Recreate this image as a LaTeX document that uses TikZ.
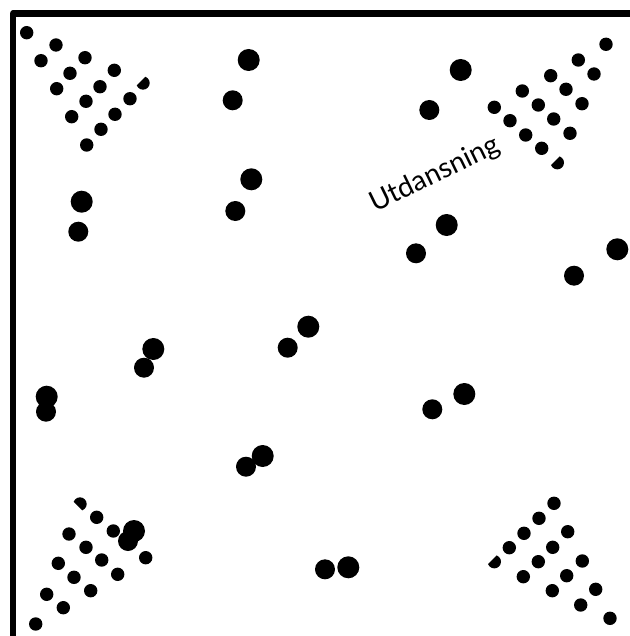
\documentclass[tikz,border=0pt]{standalone}
\usepackage{fontspec}
\setmainfont{Lato}
\begin{document}
\begin{tikzpicture}[x=1bp,y=-1bp,
  sdot/.style={circle,fill=black,inner sep=0pt,minimum size=13.4bp},
  bdot/.style={circle,fill=black,inner sep=0pt,minimum size=22bp},
  mdot/.style={circle,fill=black,inner sep=0pt,minimum size=20bp},
  frame/.style={line width=6.5bp,line join=round}]
\useasboundingbox (0,0) rectangle (630,636);
\clip (0,0) rectangle (630,636);
\fill[white] (0,0) rectangle (630,636);
\draw[frame] (13,660) -- (13,13.5) -- (660,13.5);
% top-left cluster
\foreach \x/\y [count=\i] in {26.7/32.7,56/45,41/60.7,85/57.7,70/73.3,114.3/70.3,56.7/88.7,100/86.7,86/101.3,130/98.7,71.7/116.7,115/114.3,101/129.3,86.7/145}
  \node[sdot] (tl\i) at (\x,\y) {};
\begin{scope}[shift={(143,83)}]
  \clip (-24,20) -- (20,-24) -- (20,20) -- cycle;
  \fill (0,0) circle (6.7);
\end{scope}
% top-right cluster
\foreach \x/\y [count=\i] in {606/44.3,578.3/60,594/74,550.7/75.7,522.3/91,566/89.3,494.3/107.3,538.3/105,582/103.7,510/120.7,553.7/119,525.7/135,570/133.3,541.7/148.3}
  \node[sdot] (tr\i) at (\x,\y) {};
\begin{scope}[shift={(557.3,162.7)}]
  \clip (-24,20) -- (20,-24) -- (20,20) -- cycle;
  \fill (0,0) circle (6.7);
\end{scope}
% bottom-left cluster
\foreach \x/\y [count=\i] in {96.7/517.3,69/534,113.3/531,86/547.3,145.7/557.7,58.3/563.3,101.7/560,74/577.3,117.7/574.3,46.7/594.3,90.7/590.7,63.3/607.7,35.7/624}
  \node[sdot] (bl\i) at (\x,\y) {};
\begin{scope}[shift={(80,504)}]
  \clip (-20,-16) -- (20,24) -- (20,-20) -- cycle;
  \fill (0,0) circle (6.7);
\end{scope}
% bottom-right cluster
\foreach \x/\y [count=\i] in {554/503.3,539/518.3,524/533.3,567.7/531.7,509.3/547.7,552.7/547.3,538.3/561.7,582.3/561,523.3/576.7,566.7/575.7,552.3/590.7,595.7/589.3,580.7/605,610/618.3}
  \node[sdot] (br\i) at (\x,\y) {};
\begin{scope}[shift={(494.3,561.7)}]
  \clip (-24,20) -- (20,-24) -- (20,20) -- cycle;
  \fill (0,0) circle (6.7);
\end{scope}
% pairs of large dots
\foreach \ax/\ay/\bx/\by [count=\i] in {248.7/60/232.7/100.3, 460.7/70/429.3/110, 251.3/179.3/235.3/211, 81.7/201.7/78.3/231.7, 446.7/225/416/253.3, 617.3/249.3/574/275.7, 308.3/326.7/287.7/347.7, 153.3/349/144/367.7, 46.7/396.7/46/411.7, 464.3/394/432.3/409.3, 262.7/456/246/466.7, 134/531/128/541, 348.3/567.3/325/569.3}
{
  \node[bdot] (pa\i) at (\ax,\ay) {};
  \node[mdot] (pb\i) at (\bx,\by) {};
}
\node[rotate=26,font=\fontsize{28bp}{32bp}\selectfont] (label) at (435,175) {Utdansning};
\end{tikzpicture}
\end{document}
